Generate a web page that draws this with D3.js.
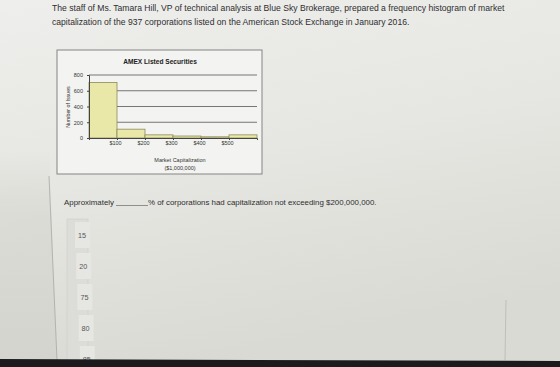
<!DOCTYPE html>
<html><head><meta charset="utf-8">
<script src="https://cdn.jsdelivr.net/npm/d3@7"></script>
<style>html,body{margin:0;padding:0;background:#e3e3df;overflow:hidden}</style>
</head><body>
<script>
const binEdges = [0, 100, 200, 300, 400, 500, 600];
const counts = [705, 112, 40, 25, 15, 40];
const yTicks = [0, 200, 400, 600, 800];
const xTickValues = [100, 200, 300, 400, 500];
const xTickLabels = ["$100", "$200", "$300", "$400", "$500"];
const chartTitle = "AMEX Listed Securities";
const yTitle = "Number of Issues";
const xTitle = ["Market Capitalization", "($1,000,000)"];
const questionLines = [
  "The staff of Ms. Tamara Hill, VP of technical analysis at Blue Sky Brokerage, prepared a frequency histogram of market",
  "capitalization of the 937 corporations listed on the American Stock Exchange in January 2016."
];
const answerOptions = ["15", "20", "75", "80", "85"];

const W = 560, H = 367;
const FONT = "Liberation Sans, Arial, sans-serif";
const svg = d3.select("body").append("svg").attr("width", W).attr("height", H);
const defs = svg.append("defs");
const bg = defs.append("linearGradient").attr("id","bg").attr("x1",0).attr("y1",0).attr("x2",0.3).attr("y2",1);
bg.append("stop").attr("offset","0").attr("stop-color","#eeeeec");
bg.append("stop").attr("offset","0.5").attr("stop-color","#e6e6e2");
bg.append("stop").attr("offset","1").attr("stop-color","#dadad4");
svg.append("rect").attr("width",W).attr("height",H).attr("fill","url(#bg)");
const lg = defs.append("linearGradient").attr("id","lp").attr("x1",0).attr("y1",0).attr("x2",0).attr("y2",1);
lg.append("stop").attr("offset","0").attr("stop-color","#d8d8d2").attr("stop-opacity",0);
lg.append("stop").attr("offset","0.3").attr("stop-color","#d8d8d2").attr("stop-opacity",0.7);
lg.append("stop").attr("offset","1").attr("stop-color","#d4d4ce").attr("stop-opacity",1);

// left panel shade and borders
svg.append("path").attr("d","M0,150 L49,150 L57,367 L0,367 Z").attr("fill","url(#lp)");
svg.append("line").attr("x1",49).attr("y1",176).attr("x2",57).attr("y2",360).attr("stroke","#a8a8a4").attr("stroke-width",0.8);
svg.append("line").attr("x1",506).attr("y1",300).attr("x2",505).attr("y2",360).attr("stroke","#b8b8b4").attr("stroke-width",0.8);

// question text
svg.append("g").selectAll("text").data(questionLines).join("text")
  .attr("x", 52).attr("y", (d,i) => 11 + i*14)
  .attr("font-family", FONT).attr("font-size", 8.6)
  .attr("fill","#2e2e30").text(d => d);

// chart frame
svg.append("rect").attr("x",57).attr("y",50).attr("width",205).attr("height",124)
  .attr("fill","#f3f3f1").attr("stroke","#7a7a78").attr("stroke-width",0.9);

const x = d3.scaleLinear().domain([0, 600]).range([89, 257]);
const y = d3.scaleLinear().domain([0, 800]).range([138, 75]);

svg.append("text").attr("x",160).attr("y",64).attr("text-anchor","middle")
  .attr("font-family", FONT).attr("font-size",6.6).attr("font-weight","bold")
  .attr("fill","#222").text(chartTitle);

// gridlines
svg.append("g").selectAll("line").data(yTicks.filter(v => v > 0)).join("line")
  .attr("x1", x(0)).attr("x2", x(600)).attr("y1", d => y(d)).attr("y2", d => y(d))
  .attr("stroke","#555").attr("stroke-width",0.8);

// bars
const bins = counts.map((c,i) => ({x0: binEdges[i], x1: binEdges[i+1], c}));
svg.append("g").selectAll("rect").data(bins).join("rect")
  .attr("x", d => x(d.x0)).attr("width", d => x(d.x1) - x(d.x0))
  .attr("y", d => y(d.c)).attr("height", d => y(0) - y(d.c))
  .attr("fill","#e9e8a9").attr("stroke","#8c8a5a").attr("stroke-width",0.8);

// y axis
const yAxis = d3.axisLeft(y).tickValues(yTicks).tickSize(2).tickPadding(4);
const gy = svg.append("g").attr("transform",`translate(${x(0)},0)`).call(yAxis);
gy.select(".domain").attr("stroke","#444");
gy.selectAll(".tick line").attr("stroke","#444");
gy.selectAll("text").attr("font-family", FONT).attr("font-size",5.5).attr("fill","#333");

// x axis
const xAxis = d3.axisBottom(x).tickValues(xTickValues).tickFormat((d,i) => xTickLabels[i]).tickSize(2).tickPadding(1.5);
const gx = svg.append("g").attr("transform",`translate(0,${y(0)})`).call(xAxis);
gx.select(".domain").attr("stroke","#444");
gx.selectAll(".tick line").attr("stroke","#444");
gx.selectAll("text").attr("font-family", FONT).attr("font-size",5.5).attr("fill","#333").attr("dx",-2);

svg.append("text").attr("transform","translate(70,107) rotate(-90)").attr("text-anchor","middle")
  .attr("font-family", FONT).attr("font-size",5.3).attr("fill","#333").text(yTitle);
svg.append("g").selectAll("text").data(xTitle).join("text")
  .attr("x",180).attr("y",(d,i) => 162 + i*8).attr("text-anchor","middle")
  .attr("font-family", FONT).attr("font-size",5.5).attr("fill","#333").text(d => d);

// sentence
const sent = svg.append("g").attr("font-family", FONT).attr("font-size",7.9).attr("fill","#2e2e30");
sent.append("text").attr("x",64).attr("y",205).text("Approximately");
sent.append("line").attr("x1",116).attr("x2",148).attr("y1",205.5).attr("y2",205.5).attr("stroke","#555").attr("stroke-width",0.6);
sent.append("text").attr("x",148).attr("y",205).text("% of corporations had capitalization not exceeding $200,000,000.");

// answer options
svg.append("rect").attr("x",67).attr("y",219).attr("width",21).attr("height",150).attr("fill","#dcdcd8").attr("stroke","#cdcdc9").attr("stroke-width",0.6);
const opt = svg.append("g").selectAll("g").data(answerOptions).join("g")
  .attr("transform",(d,i) => `translate(${81 + i*1.2},${235 + i*31})`);
opt.append("rect").attr("x",-6).attr("y",-13).attr("width",15).attr("height",26).attr("fill","#e6e6e2");
opt.append("text").attr("x",1).attr("y",2.5).attr("text-anchor","middle")
  .attr("font-family", FONT).attr("font-size",7.2).attr("fill","#555").text(d => d);

// bottom dark edge
svg.append("path").attr("d","M0,359 L560,361 L560,367 L0,367 Z").attr("fill","#1b1b1d");
</script>
</body></html>
